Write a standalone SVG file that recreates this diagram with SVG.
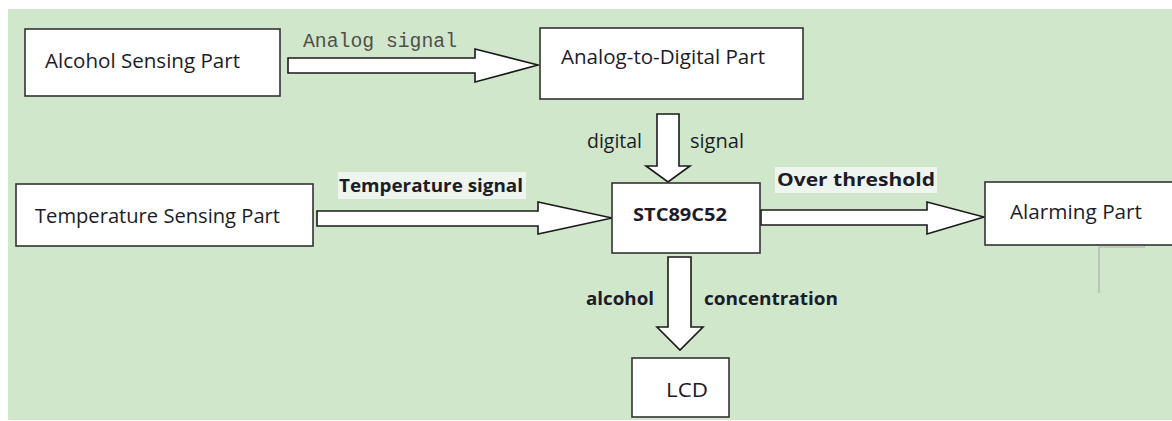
<svg xmlns="http://www.w3.org/2000/svg" width="1172" height="421" viewBox="0 0 1172 421">
<style>
.box{fill:#fff;stroke:#333;stroke-width:1.6}
.arr{fill:#fff;stroke:#1a1a1a;stroke-width:1.6;stroke-linejoin:miter}
.t{font-family:"Open Sans","Noto Sans",sans-serif;font-size:20px;fill:#1c1c28}
.b{font-family:"Open Sans","Noto Sans",sans-serif;font-size:18px;font-weight:bold;fill:#1c1c28}
.m{font-family:"Liberation Mono",monospace;font-size:20px;fill:#505048}
.hl{fill:#eef4ee}
</style>
<rect x="0" y="0" width="1172" height="421" fill="#fff"/>
<rect x="8" y="9" width="1164" height="411" fill="#d0e7cc"/>
<g id="connectors">
<polygon class="arr" points="288,58 475,58 475,49 538,65 475,82 475,73 288,73"/>
<polygon class="arr" points="317,211 538,211 538,202 612,218 538,234 538,226 317,226"/>
<polygon class="arr" points="761,210 927,210 927,202 984,217 927,234 927,225 761,225"/>
<polygon class="arr" points="657,114 679,114 679,166 690,166 668,182 646,166 657,166"/>
<polygon class="arr" points="668,257 691,257 691,327 703,327 680,350 657,327 668,327"/>
<text class="m" x="303" y="47" textLength="154" lengthAdjust="spacingAndGlyphs">Analog signal</text>
<text class="t" x="587" y="148" textLength="55" lengthAdjust="spacingAndGlyphs">digital</text>
<text class="t" x="690" y="148" textLength="54" lengthAdjust="spacingAndGlyphs">signal</text>
<rect class="hl" x="338" y="172" width="188" height="27"/>
<text class="b" x="339" y="192" textLength="184" lengthAdjust="spacingAndGlyphs">Temperature signal</text>
<rect class="hl" x="775" y="167" width="162" height="26"/>
<text class="b" x="777" y="186" textLength="158" lengthAdjust="spacingAndGlyphs">Over threshold</text>
<text class="b" x="586" y="305" textLength="68" lengthAdjust="spacingAndGlyphs">alcohol</text>
<text class="b" x="704" y="305" textLength="134" lengthAdjust="spacingAndGlyphs">concentration</text>
</g>
<g id="alcohol-sensing">
<rect class="box" x="25" y="29" width="255" height="67"/>
<text class="t" x="45" y="68" textLength="195" lengthAdjust="spacingAndGlyphs">Alcohol Sensing Part</text>
</g>
<g id="adc">
<rect class="box" x="540" y="28" width="263" height="71"/>
<text class="t" x="561" y="64" textLength="204" lengthAdjust="spacingAndGlyphs">Analog-to-Digital Part</text>
</g>
<g id="temperature-sensing">
<rect class="box" x="16" y="184" width="297" height="62"/>
<text class="t" x="35" y="223" textLength="245" lengthAdjust="spacingAndGlyphs">Temperature Sensing Part</text>
</g>
<g id="stc89c52">
<rect class="box" x="612" y="183" width="148" height="70"/>
<text class="b" x="633" y="221" textLength="94" lengthAdjust="spacingAndGlyphs">STC89C52</text>
</g>
<g id="alarming">
<rect class="box" x="985" y="182" width="190" height="63"/>
<text class="t" x="1010" y="219" textLength="132" lengthAdjust="spacingAndGlyphs">Alarming Part</text>
<path d="M1099,247 V293 M1099,247 H1145" stroke="#b0b0b0" stroke-width="1.2" fill="none"/>
</g>
<g id="lcd">
<rect class="box" x="632" y="358" width="97" height="59"/>
<text class="t" x="666" y="397" textLength="42" lengthAdjust="spacingAndGlyphs">LCD</text>
</g>
</svg>
